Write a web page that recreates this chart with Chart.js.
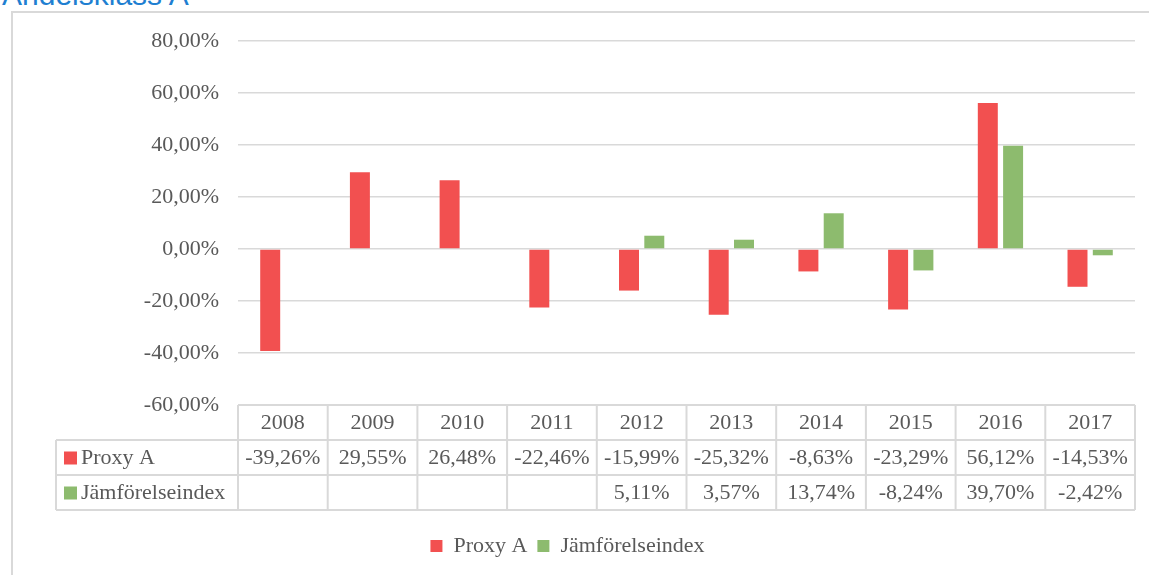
<!DOCTYPE html>
<html>
<head>
<meta charset="utf-8">
<script src="https://cdn.jsdelivr.net/npm/chart.js@4.4.1/dist/chart.umd.min.js"></script>
<style>
  html, body { margin: 0; padding: 0; background: #fff; overflow: hidden; }
  #wrap { position: relative; width: 1149px; height: 575px; }
  #frame { position: absolute; left: 11px; top: 11px; width: 1160px; height: 600px; border-left: 2px solid #d9d9d9; border-top: 2px solid #d9d9d9; }
  #title { position: absolute; left: 2px; top: -22px; font-family: "Liberation Sans", sans-serif; font-size: 30px; color: #1f7fd1; white-space: nowrap; }
  canvas { position: absolute; left: 0; top: 0; }
</style>
</head>
<body>
<div id="wrap">
  <div id="frame"></div>
  <div id="title">Andelsklass A</div>
  <canvas id="chart" width="1149" height="575"></canvas>
</div>
<script>
const years = ["2008", "2009", "2010", "2011", "2012", "2013", "2014", "2015", "2016", "2017"];
const proxyA = [-39.26, 29.55, 26.48, -22.46, -15.99, -25.32, -8.63, -23.29, 56.12, -14.53];
const jamforelse = [null, null, null, null, 5.11, 3.57, 13.74, -8.24, 39.70, -2.42];
const yTicks = [80, 60, 40, 20, 0, -20, -40, -60];

const RED = "#f25050";
const GREEN = "#8dbb6e";
const GRID = "#d9d9d9";
const TEXT = "#595959";
const FONT = "Liberation Serif, serif";
const FSIZE = 22;

const fmt = (v) => v.toFixed(2).replace(".", ",") + "%";

// draws the data table under the plot, using the x scale for column edges
const dataTable = {
  id: "dataTable",
  afterDraw(chart) {
    const { ctx, chartArea } = chart;
    const xs = chart.scales.x;
    const colW = (chartArea.right - chartArea.left) / years.length;
    const rowH = 35;
    const top = chartArea.bottom;
    const labelLeft = 56;
    const rows = [
      { name: "Proxy A", data: proxyA, color: RED },
      { name: "Jämförelseindex", data: jamforelse, color: GREEN },
    ];

    ctx.save();
    ctx.strokeStyle = GRID;
    ctx.lineWidth = 2;

    // horizontal lines
    ctx.beginPath();
    ctx.moveTo(chartArea.left, top);
    ctx.lineTo(chartArea.right, top);
    for (let r = 1; r <= 3; r++) {
      ctx.moveTo(labelLeft, top + r * rowH);
      ctx.lineTo(chartArea.right, top + r * rowH);
    }
    // vertical lines
    ctx.moveTo(labelLeft, top + rowH);
    ctx.lineTo(labelLeft, top + 3 * rowH);
    for (let i = 0; i <= years.length; i++) {
      const x = chartArea.left + i * colW;
      ctx.moveTo(x, top);
      ctx.lineTo(x, top + 3 * rowH);
    }
    ctx.stroke();

    ctx.font = FSIZE + "px " + FONT;
    ctx.fillStyle = TEXT;
    ctx.textBaseline = "middle";
    ctx.textAlign = "center";
    years.forEach((y, i) => {
      ctx.fillText(y, xs.getPixelForValue(i), top + rowH / 2 + 1);
    });

    rows.forEach((row, r) => {
      const cy = top + (r + 1) * rowH + rowH / 2 + 1;
      ctx.fillStyle = row.color;
      ctx.fillRect(labelLeft + 8, cy - 7, 13, 13);
      ctx.fillStyle = TEXT;
      ctx.textAlign = "left";
      ctx.fillText(row.name, labelLeft + 25, cy);
      ctx.textAlign = "center";
      row.data.forEach((v, i) => {
        if (v === null) return;
        ctx.fillText(fmt(v), xs.getPixelForValue(i), cy);
      });
    });
    ctx.restore();
  },
};

new Chart(document.getElementById("chart"), {
  type: "bar",
  data: {
    labels: years,
    datasets: [
      { label: "Proxy A", data: proxyA, backgroundColor: RED },
      { label: "Jämförelseindex", data: jamforelse, backgroundColor: GREEN },
    ],
  },
  options: {
    responsive: false,
    animation: false,
    categoryPercentage: 0.564,
    barPercentage: 0.79,
    layout: { padding: { top: 41, right: 14, bottom: 8, left: 0 } },
    plugins: {
      tooltip: { enabled: false },
      legend: {
        position: "bottom",
        labels: {
          color: TEXT,
          font: { family: FONT, size: FSIZE },
          boxWidth: 12,
          boxHeight: 12,
          padding: 10,
        },
      },
    },
    scales: {
      x: {
        grid: { display: false },
        border: { display: false },
        ticks: { display: false },
        afterFit: (s) => { s.height = 120; },
      },
      y: {
        min: -60,
        max: 80,
        afterFit: (s) => { s.width = 238; },
        afterBuildTicks: (s) => { s.ticks = yTicks.map((v) => ({ value: v })); },
        grid: { color: GRID, lineWidth: 1.5, drawTicks: false },
        border: { display: false },
        ticks: {
          color: TEXT,
          font: { family: FONT, size: FSIZE },
          padding: 19,
          callback: (v) => fmt(v),
        },
      },
    },
  },
  plugins: [dataTable],
});
</script>
</body>
</html>
